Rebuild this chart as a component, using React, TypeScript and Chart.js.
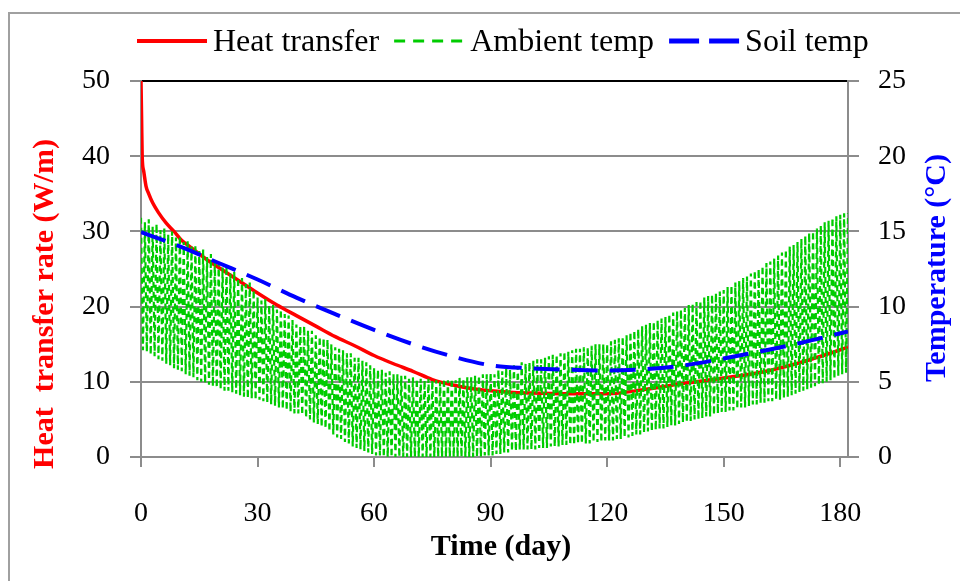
import React, { useEffect, useRef } from "react";
import { Chart, registerables } from "chart.js";

Chart.register(...registerables);

// ---- Data ----
const heatDays = [0, 0.15, 0.3, 0.7, 1.3, 2, 3, 4.5, 6.5, 8.5, 10.3, 13, 16, 20, 25, 30, 35, 40, 45, 50, 55, 60, 65, 70, 75, 80, 85, 90, 95, 100, 110, 120, 130, 140, 150, 160, 165, 170, 175, 182];
const heatRate = [50, 45, 40, 38, 36, 35, 33.8, 32.5, 31.1, 30, 28.9, 27.8, 26.6, 25.2, 23.5, 21.8, 20.2, 18.8, 17.4, 16.0, 14.8, 13.5, 12.4, 11.4, 10.3, 9.6, 9.1, 8.8, 8.6, 8.5, 8.4, 8.4, 9.0, 9.8, 10.5, 11.3, 11.9, 12.6, 13.4, 14.6];

const soilDays = [0, 10, 20, 30, 40, 50, 60, 70, 80, 90, 100, 110, 120, 130, 140, 150, 160, 170, 182];
const soilTemp = [14.95, 14.0, 12.9, 11.8, 10.6, 9.5, 8.45, 7.5, 6.7, 6.1, 5.9, 5.8, 5.75, 5.85, 6.1, 6.55, 7.05, 7.6, 8.35];

// daily maximum and minimum ambient temperature (°C), day 0..182
const ambientMax = [
  15.9, 15.6, 15.8, 15.3, 15.5, 15.1, 15.2, 14.8, 15.0, 14.6,
  14.7, 14.3, 14.4, 14.0, 14.1, 13.7, 13.8, 13.3, 13.5, 13.0,
  12.9, 12.6, 12.7, 12.2, 12.3, 11.9, 11.9, 11.5, 11.6, 11.1,
  10.6, 10.4, 10.5, 10.1, 10.1, 9.8, 9.8, 9.5, 9.4, 9.1,
  8.8, 8.7, 8.7, 8.4, 8.4, 8.1, 8.0, 7.9, 7.8, 7.5,
  7.3, 7.2, 7.1, 6.9, 6.9, 6.6, 6.6, 6.4, 6.3, 6.1,
  5.9, 5.8, 5.8, 5.6, 5.7, 5.5, 5.5, 5.4, 5.4, 5.2,
  5.3, 5.2, 5.2, 5.1, 5.2, 5.1, 5.1, 5.0, 5.2, 5.1,
  5.2, 5.1, 5.3, 5.2, 5.3, 5.3, 5.4, 5.4, 5.5, 5.5,
  5.6, 5.5, 5.8, 5.7, 5.9, 5.8, 6.1, 6.0, 6.3, 6.2,
  6.3, 6.4, 6.5, 6.5, 6.6, 6.7, 6.8, 6.8, 6.9, 7.0,
  7.0, 7.1, 7.2, 7.2, 7.3, 7.3, 7.4, 7.5, 7.5, 7.5,
  7.5, 7.7, 7.8, 7.9, 8.0, 8.1, 8.3, 8.4, 8.5, 8.7,
  8.8, 8.9, 9.0, 9.1, 9.2, 9.3, 9.5, 9.6, 9.7, 9.8,
  9.9, 10.1, 10.2, 10.3, 10.4, 10.6, 10.7, 10.8, 10.9, 11.0,
  11.1, 11.3, 11.4, 11.6, 11.7, 11.9, 12.0, 12.2, 12.4, 12.5,
  12.7, 12.9, 13.0, 13.2, 13.4, 13.6, 13.8, 14.0, 14.1, 14.3,
  14.5, 14.7, 14.9, 15.0, 15.2, 15.4, 15.6, 15.7, 15.9, 16.0,
  16.1, 16.2, 16.2,
];
const ambientMin = [
  7.1, 7.0, 6.8, 6.7, 6.5, 6.4, 6.2, 6.1, 5.9, 5.8,
  5.7, 5.5, 5.4, 5.3, 5.1, 5.0, 4.9, 4.8, 4.7, 4.6,
  4.5, 4.4, 4.4, 4.3, 4.2, 4.1, 4.0, 3.9, 3.9, 3.8,
  3.8, 3.7, 3.6, 3.5, 3.4, 3.3, 3.2, 3.1, 3.0, 2.9,
  2.9, 2.8, 2.6, 2.5, 2.3, 2.2, 2.0, 1.9, 1.7, 1.5,
  1.3, 1.2, 1.0, 0.9, 0.7, 0.6, 0.5, 0.4, 0.3, 0.2,
  0.1, 0.1, 0.0, 0.0, 0.0, 0.0, 0.0, 0.0, 0.0, 0.0,
  0.0, 0.0, 0.0, 0.0, 0.0, 0.0, 0.0, 0.0, 0.0, 0.0,
  0.0, 0.0, 0.0, 0.0, 0.0, 0.0, 0.0, 0.0, 0.1, 0.1,
  0.1, 0.2, 0.2, 0.3, 0.3, 0.4, 0.4, 0.5, 0.5, 0.5,
  0.5, 0.5, 0.6, 0.6, 0.6, 0.7, 0.7, 0.7, 0.8, 0.8,
  0.8, 0.8, 0.9, 0.9, 0.9, 0.9, 1.0, 1.0, 1.0, 1.1,
  1.1, 1.1, 1.2, 1.2, 1.3, 1.3, 1.4, 1.5, 1.5, 1.6,
  1.7, 1.7, 1.8, 1.9, 1.9, 2.0, 2.1, 2.1, 2.2, 2.3,
  2.3, 2.4, 2.5, 2.5, 2.6, 2.7, 2.7, 2.8, 2.9, 3.0,
  3.0, 3.1, 3.1, 3.2, 3.3, 3.3, 3.4, 3.5, 3.5, 3.6,
  3.6, 3.7, 3.7, 3.8, 3.8, 3.9, 4.0, 4.1, 4.2, 4.3,
  4.4, 4.5, 4.6, 4.7, 4.8, 4.9, 5.0, 5.1, 5.2, 5.4,
  5.5, 5.6, 5.7,
];

const seriesLabels = ["Heat transfer", "Ambient temp", "Soil temp"];
const xTitle = "Time (day)";
const yTitle = "Heat  transfer rate (W/m)";
const y2Title = "Temperature (°C)";

const RED = "#ff0000";
const GREEN = "#00cc00";
const BLUE = "#0000ff";
const GRID = "#8c8c8c";
const SERIF = '"Liberation Serif", "Times New Roman", serif';

const overlayPlugin = {
  id: "overlay",
  afterDraw(chart: any) {
    const ctx = chart.ctx as CanvasRenderingContext2D;
    ctx.save();
    // legend
    const legendItems = [
      { label: seriesLabels[0], color: RED, width: 4, dash: [] as number[] },
      { label: seriesLabels[1], color: GREEN, width: 3, dash: [11, 8] },
      { label: seriesLabels[2], color: BLUE, width: 5, dash: [30, 10] },
    ];
    ctx.font = `32px ${SERIF}`;
    let x = 137;
    const ly = 41;
    for (const it of legendItems) {
      ctx.strokeStyle = it.color;
      ctx.lineWidth = it.width;
      ctx.setLineDash(it.dash);
      ctx.lineCap = "butt";
      ctx.beginPath();
      ctx.moveTo(x, ly);
      ctx.lineTo(x + 70, ly);
      ctx.stroke();
      ctx.setLineDash([]);
      ctx.fillStyle = "#000";
      ctx.textAlign = "left";
      ctx.textBaseline = "alphabetic";
      ctx.fillText(it.label, x + 76, 51);
      x += 76 + ctx.measureText(it.label).width + 15;
    }
    // axis titles
    ctx.font = `bold 30px ${SERIF}`;
    ctx.textAlign = "center";
    ctx.textBaseline = "middle";
    ctx.fillStyle = "#000";
    ctx.fillText(xTitle, 501, 547);

    ctx.save();
    ctx.translate(45, 304);
    ctx.rotate(-Math.PI / 2);
    ctx.fillStyle = RED;
    ctx.fillText(yTitle, 0, 0);
    ctx.restore();

    ctx.save();
    ctx.translate(937, 268);
    ctx.rotate(-Math.PI / 2);
    ctx.fillStyle = BLUE;
    ctx.fillText(y2Title, 0, 0);
    ctx.restore();

    ctx.restore();
  },
};

export default function App() {
  const canvasRef = useRef<HTMLCanvasElement | null>(null);

  useEffect(() => {
    if (!canvasRef.current) return;
    const heatData = heatDays.map((d, i) => ({ x: d, y: heatRate[i] }));
    const soilData = soilDays.map((d, i) => ({ x: d, y: soilTemp[i] }));
    const ambientData: { x: number; y: number }[] = [];
    ambientMax.forEach((v, d) => {
      ambientData.push({ x: d, y: v });
      if (d < ambientMax.length - 1) ambientData.push({ x: d + 0.5, y: ambientMin[d] });
    });

    const tickFont = { family: SERIF, size: 28 };

    const chart = new Chart(canvasRef.current, {
      type: "line",
      data: {
        datasets: [
          {
            label: seriesLabels[2],
            data: soilData,
            yAxisID: "y2",
            borderColor: BLUE,
            borderWidth: 4,
            borderDash: [26, 12],
            pointRadius: 0,
            cubicInterpolationMode: "monotone",
            fill: false,
          },
          {
            label: seriesLabels[1],
            data: ambientData,
            yAxisID: "y2",
            borderColor: GREEN,
            borderWidth: 2.2,
            borderDash: [6, 4],
            pointRadius: 0,
            tension: 0,
            fill: false,
          },
          {
            label: seriesLabels[0],
            data: heatData,
            yAxisID: "y",
            borderColor: RED,
            borderWidth: 3.5,
            pointRadius: 0,
            cubicInterpolationMode: "monotone",
            fill: false,
          },
        ],
      },
      options: {
        animation: false,
        responsive: false,
        maintainAspectRatio: false,
        layout: { padding: { top: 81, left: 0, right: 0, bottom: 0 } },
        plugins: {
          legend: { display: false },
          tooltip: { enabled: false },
        },
        scales: {
          x: {
            type: "linear",
            min: 0,
            max: 182,
            afterFit: (s: any) => {
              s.height = 124;
            },
            ticks: {
              stepSize: 30,
              includeBounds: false,
              color: "#000",
              font: tickFont,
              padding: 30,
              maxRotation: 0,
            },
            grid: {
              drawOnChartArea: false,
              drawTicks: true,
              tickLength: 10,
              tickColor: GRID,
              tickWidth: 2,
              lineWidth: 2,
              color: GRID,
            },
            border: { color: GRID, width: 2 },
          },
          y: {
            type: "linear",
            position: "left",
            min: 0,
            max: 50,
            afterFit: (s: any) => {
              s.width = 141;
            },
            ticks: { stepSize: 10, color: "#000", font: tickFont, padding: 20 },
            grid: {
              color: (c: any) => (c.tick && c.tick.value === 50 ? "#000" : GRID),
              lineWidth: 2,
              tickLength: 11,
              tickColor: GRID,
              tickWidth: 2,
            },
            border: { color: GRID, width: 2 },
          },
          y2: {
            type: "linear",
            position: "right",
            min: 0,
            max: 25,
            afterFit: (s: any) => {
              s.width = 112;
            },
            ticks: { stepSize: 5, color: "#000", font: tickFont, padding: 19 },
            grid: {
              drawOnChartArea: false,
              tickLength: 11,
              tickColor: GRID,
              tickWidth: 2,
              lineWidth: 2,
              color: GRID,
            },
            border: { color: GRID, width: 2 },
          },
        },
      },
      plugins: [overlayPlugin],
    } as any);

    return () => {
      chart.destroy();
    };
  }, []);

  return (
    <div
      style={{
        position: "fixed",
        left: 0,
        top: 0,
        width: 960,
        height: 581,
        background: "#fff",
        overflow: "hidden",
      }}
    >
      <div
        style={{
          position: "absolute",
          left: 8,
          top: 12,
          width: 1000,
          height: 620,
          borderLeft: "2px solid #a0a0a0",
          borderTop: "2px solid #a0a0a0",
          boxSizing: "border-box",
        }}
      />
      <canvas
        ref={canvasRef}
        width={960}
        height={581}
        style={{ position: "absolute", left: 0, top: 0, width: 960, height: 581 }}
      />
    </div>
  );
}
